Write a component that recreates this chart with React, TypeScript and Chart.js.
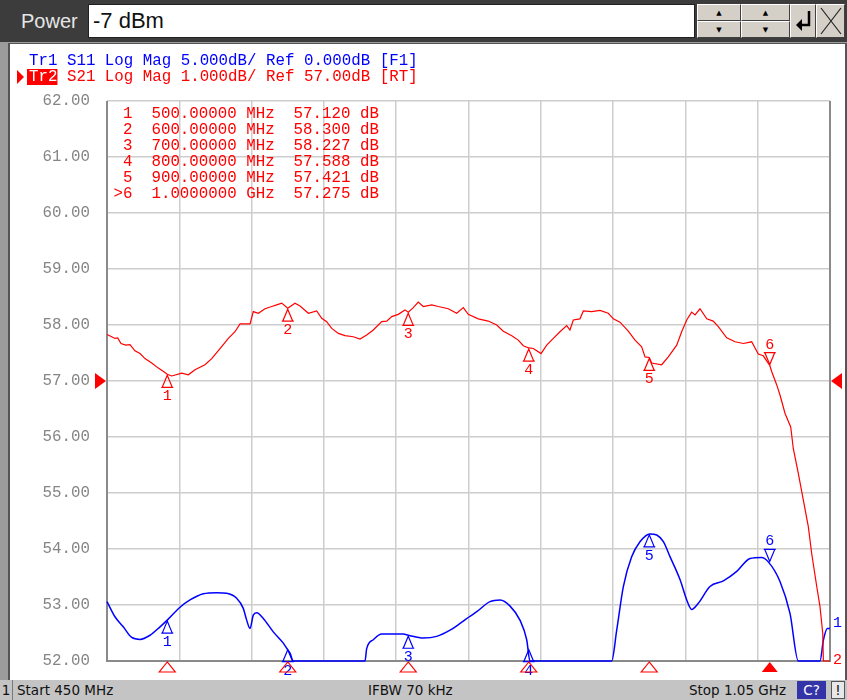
import React, { useEffect, useRef } from "react";
import { Chart, registerables } from "chart.js";
Chart.register(...registerables);

const MONO = '"Liberation Mono", "DejaVu Sans Mono", monospace';

// ---- data ----
const xTickValues = [450, 510, 570, 630, 690, 750, 810, 870, 930, 990, 1050];
const yTickValues = [52, 53, 54, 55, 56, 57, 58, 59, 60, 61, 62];

// Tr2 S21 (dB), 1 dB/div, ref 57 dB
const s21Freq = [450, 453.9, 456.6, 458.9, 461.6, 465.5, 469.1, 473.2, 477.4, 481.5, 487.1, 492.6, 498.1, 500, 503.7, 512, 517.5, 523, 531.3, 536.9, 543.8, 550.7, 556.2, 560.4, 568.7, 571.4, 575.6, 581.1, 586.7, 590.8, 595, 600, 606, 610.2, 617.1, 624, 628.2, 632.3, 636.5, 642, 647.5, 654.4, 660, 665.5, 671, 678, 682.1, 686.3, 691.7, 697.3, 700, 704.2, 708.3, 712.5, 719.5, 724.9, 733.2, 740.2, 745.7, 749.8, 758.1, 766.4, 773.4, 778.9, 785.9, 791.3, 795.5, 800, 803.8, 810.2, 814.9, 820.4, 825.9, 831.5, 834.2, 837, 842.5, 845.3, 852.2, 859.1, 866, 870.2, 875.7, 882.6, 888.2, 893.7, 896.5, 900, 902, 910.3, 915.8, 922.8, 926.9, 931.1, 935.2, 938, 942.1, 947.7, 953.1, 957.3, 964.3, 971.2, 978.1, 985, 990.5, 994.6, 1000, 1001.6, 1005.8, 1008.5, 1012.7, 1017.4, 1019.5, 1023.7, 1027.8, 1032, 1034.8, 1039, 1041.7, 1044, 1044.5, 1047, 1050];
const s21Values = [57.83, 57.79, 57.76, 57.77, 57.67, 57.64, 57.65, 57.54, 57.49, 57.40, 57.32, 57.23, 57.15, 57.12, 57.09, 57.14, 57.11, 57.20, 57.29, 57.40, 57.58, 57.76, 57.88, 58.02, 58.02, 58.24, 58.21, 58.29, 58.33, 58.36, 58.39, 58.30, 58.39, 58.34, 58.21, 58.25, 58.12, 58.06, 57.94, 57.85, 57.81, 57.79, 57.75, 57.82, 57.91, 58.06, 58.07, 58.15, 58.19, 58.27, 58.23, 58.31, 58.41, 58.33, 58.36, 58.33, 58.29, 58.21, 58.31, 58.19, 58.11, 58.07, 58.00, 57.89, 57.81, 57.73, 57.63, 57.59, 57.58, 57.49, 57.64, 57.76, 57.88, 57.99, 57.91, 58.09, 58.11, 58.25, 58.24, 58.26, 58.21, 58.11, 58.05, 57.89, 57.73, 57.61, 57.43, 57.42, 57.32, 57.29, 57.43, 57.64, 57.88, 58.09, 58.23, 58.18, 58.29, 58.11, 58.07, 57.97, 57.77, 57.70, 57.67, 57.70, 57.48, 57.45, 57.28, 57.17, 56.93, 56.75, 56.42, 56.18, 55.80, 55.35, 54.88, 54.40, 53.92, 53.33, 52.97, 52.49, 52.0, 51.4, 51.0];

// Tr1 S11 (dB), 5 dB/div, ref 0 dB (values at -25 are at/below screen floor)
const s11Freq = [450, 456.6, 463.5, 470.5, 477.4, 485.7, 494, 500, 510.6, 518.9, 529.9, 541, 549.3, 557.6, 563.1, 565.9, 568.7, 571.4, 574.2, 579.7, 588, 596.3, 600, 601.9, 604.6, 664.1, 665.5, 671, 678, 695.9, 700, 712.5, 723.6, 734.7, 743, 750.7, 756.8, 767.8, 776.2, 784.5, 792.7, 798.3, 801, 868.8, 873, 878.5, 885.4, 892.3, 900.6, 906.2, 911.7, 917.3, 925.6, 931.1, 935.2, 940.7, 950.4, 961.5, 972.6, 983.6, 993.3, 998.8, 1008.5, 1016.8, 1023.7, 1041.7, 1044.5, 1047.8, 1050];
const s11Values = [-19.7, -21.05, -21.95, -22.9, -23.07, -22.7, -21.95, -21.35, -20.2, -19.55, -19.0, -18.9, -18.95, -19.4, -20.3, -21.35, -22.1, -20.9, -20.7, -21.2, -22.4, -23.4, -24.0, -24.3, -25, -25, -23.9, -23.1, -22.6, -22.6, -22.7, -22.95, -22.8, -22.25, -21.65, -21.05, -20.6, -19.7, -19.55, -20.1, -21.35, -23.1, -25, -25, -22.25, -18.35, -15.7, -14.35, -13.65, -13.75, -14.35, -15.7, -17.75, -19.55, -20.4, -19.85, -18.35, -17.85, -17.0, -15.85, -15.75, -16.15, -17.9, -20.75, -25, -25, -23.15, -22.1, -22.1];

// markers
const markerIds = ["1", "2", "3", "4", "5", ">6"];
const markerFreqs = [500, 600, 700, 800, 900, 1000];
const markerFreqLabels = ["500.00000", "600.00000", "700.00000", "800.00000", "900.00000", "1.0000000"];
const markerUnits = ["MHz", "MHz", "MHz", "MHz", "MHz", "GHz"];
const s21MarkerValues = [57.12, 58.3, 58.227, 57.588, 57.421, 57.275];
const s11MarkerValues = [-21.35, -23.9, -22.7, -23.9, -13.65, -16.2];

const tr1Header = "Tr1 S11 Log Mag 5.000dB/ Ref 0.000dB [F1]";
const tr2Name = "Tr2";
const tr2Header = " S21 Log Mag 1.000dB/ Ref 57.00dB [RT]";

const RED = "#ff0000";
const BLUE = "#0000ff";

function drawMarker(ctx: CanvasRenderingContext2D, x: number, y: number, active: boolean, color: string, label: string) {
  ctx.strokeStyle = color;
  ctx.fillStyle = color;
  ctx.lineWidth = 1.2;
  ctx.beginPath();
  if (!active) {
    ctx.moveTo(x, y + 1);
    ctx.lineTo(x - 5, y + 13);
    ctx.lineTo(x + 5, y + 13);
    ctx.closePath();
    ctx.moveTo(x - 6, y + 13);
    ctx.lineTo(x + 6, y + 13);
    ctx.stroke();
    ctx.fillText(label, x, y + 22);
  } else {
    ctx.moveTo(x, y - 1);
    ctx.lineTo(x - 5, y - 13);
    ctx.lineTo(x + 5, y - 13);
    ctx.closePath();
    ctx.moveTo(x - 6, y - 13);
    ctx.lineTo(x + 6, y - 13);
    ctx.stroke();
    ctx.fillText(label, x, y - 21);
  }
}

const framePlugin = {
  id: "vnaFrame",
  beforeDatasetsDraw(chart: any) {
    const { ctx, chartArea: a, scales } = chart;
    ctx.save();
    ctx.strokeStyle = "#8a8a8a";
    ctx.lineWidth = 2;
    ctx.beginPath();
    ctx.moveTo(a.left, a.top);
    ctx.lineTo(a.left, a.bottom);
    ctx.lineTo(a.right, a.bottom);
    ctx.lineTo(a.right, a.top);
    ctx.stroke();
    // y tick labels
    ctx.font = `15.8px ${MONO}`;
    ctx.fillStyle = "#858585";
    ctx.textAlign = "right";
    ctx.textBaseline = "middle";
    yTickValues.forEach((v) => {
      ctx.fillText(v.toFixed(2), a.left - 17, scales.y.getPixelForValue(v));
    });
    ctx.restore();
  },
  afterDatasetsDraw(chart: any) {
    const { ctx, chartArea: a, scales } = chart;
    const xs = scales.x, ys = scales.y, y2 = scales.y2;
    ctx.save();
    ctx.font = `15px ${MONO}`;
    ctx.textAlign = "center";
    ctx.textBaseline = "middle";
    markerFreqs.forEach((f, i) => {
      const x = xs.getPixelForValue(f);
      const num = String(i + 1);
      const active = i === markerFreqs.length - 1;
      drawMarker(ctx, x, ys.getPixelForValue(s21MarkerValues[i]), active, RED, num);
      drawMarker(ctx, x, y2.getPixelForValue(s11MarkerValues[i]), active, BLUE, num);
      // stimulus triangle under the axis
      ctx.strokeStyle = RED;
      ctx.fillStyle = RED;
      ctx.lineWidth = 1.2;
      ctx.beginPath();
      ctx.moveTo(x, a.bottom + 1);
      ctx.lineTo(x - 8, a.bottom + 11);
      ctx.lineTo(x + 8, a.bottom + 11);
      ctx.closePath();
      if (active) ctx.fill();
      else ctx.stroke();
    });
    // reference arrows (57 dB)
    const yr = ys.getPixelForValue(57);
    ctx.fillStyle = RED;
    ctx.beginPath();
    ctx.moveTo(a.left - 1, yr);
    ctx.lineTo(a.left - 12, yr - 8);
    ctx.lineTo(a.left - 12, yr + 8);
    ctx.closePath();
    ctx.fill();
    ctx.beginPath();
    ctx.moveTo(a.right + 1, yr);
    ctx.lineTo(a.right + 12, yr - 8);
    ctx.lineTo(a.right + 12, yr + 8);
    ctx.closePath();
    ctx.fill();
    // trace end labels
    ctx.textAlign = "left";
    ctx.fillStyle = BLUE;
    const lastBlue = Math.max(s11Values[s11Values.length - 1], -25);
    ctx.fillText("1", a.right + 3, y2.getPixelForValue(lastBlue) - 5);
    ctx.fillStyle = RED;
    ctx.fillText("2", a.right + 3, a.bottom - 1);

    // headers
    ctx.font = `15.8px ${MONO}`;
    ctx.textBaseline = "middle";
    ctx.textAlign = "left";
    ctx.fillStyle = BLUE;
    ctx.fillText(tr1Header, 19, 17);
    // active trace pointer
    ctx.fillStyle = RED;
    ctx.beginPath();
    ctx.moveTo(7, 26);
    ctx.lineTo(14, 33);
    ctx.lineTo(7, 40);
    ctx.closePath();
    ctx.fill();
    const wName = ctx.measureText(tr2Name).width;
    ctx.fillRect(17, 25, wName + 2, 16);
    ctx.fillStyle = "#ffffff";
    ctx.fillText(tr2Name, 19, 33);
    ctx.fillStyle = RED;
    ctx.fillText(tr2Header, 19 + wName, 33);

    // marker table
    markerIds.forEach((id, i) => {
      const line = id.padStart(2, " ") + "  " + markerFreqLabels[i] + " " + markerUnits[i] + "  " + s21MarkerValues[i].toFixed(3) + " dB";
      ctx.fillText(line, 103.5, 70 + i * 15.9);
    });
    ctx.restore();
  },
};

const btn: React.CSSProperties = {
  position: "absolute",
  background: "#d4d0c8",
  borderStyle: "solid",
  borderWidth: 1,
  borderColor: "#ffffff #404040 #404040 #ffffff",
  boxSizing: "border-box",
  display: "flex",
  alignItems: "center",
  justifyContent: "center",
  fontSize: 7,
  color: "#000",
  fontFamily: "DejaVu Sans, sans-serif",
};

export default function App() {
  const ref = useRef<HTMLCanvasElement>(null);
  useEffect(() => {
    const canvas = ref.current!;
    const chart = new Chart(canvas, {
      type: "line",
      data: {
        datasets: [
          {
            label: "Tr2 S21",
            data: s21Freq.map((f, i) => ({ x: f, y: Math.max(s21Values[i], 52) })),
            borderColor: RED,
            borderWidth: 1.2,
            pointRadius: 0,
            tension: 0,
            yAxisID: "y",
            clip: 3,
          },
          {
            label: "Tr1 S11",
            data: s11Freq.map((f, i) => ({ x: f, y: Math.max(s11Values[i], -25) })),
            borderColor: BLUE,
            borderWidth: 1.5,
            pointRadius: 0,
            cubicInterpolationMode: "monotone",
            yAxisID: "y2",
            clip: 3,
          },
        ] as any,
      },
      options: {
        animation: false,
        responsive: false,
        layout: { padding: { top: 57, right: 15, left: 97, bottom: 19 } },
        plugins: { legend: { display: false }, tooltip: { enabled: false } },
        events: [],
        scales: {
          x: {
            type: "linear",
            min: 450,
            max: 1050,
            afterBuildTicks: (s: any) => {
              s.ticks = xTickValues.map((v) => ({ value: v }));
            },
            ticks: { display: false },
            grid: { color: "#cdcdcd", lineWidth: 1.5, drawTicks: false },
            border: { display: false },
          },
          y: {
            type: "linear",
            min: 52,
            max: 62,
            afterBuildTicks: (s: any) => {
              s.ticks = yTickValues.map((v) => ({ value: v }));
            },
            ticks: { display: false },
            grid: { color: "#cdcdcd", lineWidth: 1.5, drawTicks: false },
            border: { display: false },
          },
          y2: {
            type: "linear",
            min: -25,
            max: 25,
            display: false,
          },
        },
      } as any,
      plugins: [framePlugin],
    });
    return () => chart.destroy();
  }, []);

  return (
    <div style={{ position: "fixed", left: 0, top: 0, width: 847, height: 700, background: "#8e8e8e", overflow: "hidden" }}>
      {/* top toolbar */}
      <div style={{ position: "absolute", left: 0, top: 0, width: 847, height: 42, background: "#3c3c3c" }} />
      <div style={{ position: "absolute", left: 21, top: 8, color: "#e6e6e6", font: "20px 'Liberation Sans', Arial, sans-serif", lineHeight: "26px" }}>Power</div>
      <div style={{ position: "absolute", left: 88, top: 4, width: 607, height: 34, background: "#fff", border: "1px solid #202020", boxSizing: "border-box", font: "22px 'Liberation Sans', Arial, sans-serif", lineHeight: "32px", paddingLeft: 4, color: "#111" }}>-7 dBm</div>
      <div style={{ ...btn, left: 697, top: 4, width: 44, height: 17 }}>▲</div>
      <div style={{ ...btn, left: 697, top: 21, width: 44, height: 17 }}>▼</div>
      <div style={{ ...btn, left: 741, top: 4, width: 49, height: 17 }}>▲</div>
      <div style={{ ...btn, left: 741, top: 21, width: 49, height: 17 }}>▼</div>
      <div style={{ ...btn, left: 790, top: 4, width: 26, height: 34 }}>
        <svg width="20" height="26" viewBox="0 0 20 26">
          <path d="M16 3 V17 H5" stroke="#000" strokeWidth="2.5" fill="none" />
          <path d="M3 17 L9 11 L9 23 Z" fill="#000" />
        </svg>
      </div>
      <div style={{ ...btn, left: 816, top: 4, width: 29, height: 34 }}>
        <svg width="24" height="30" viewBox="0 0 24 30">
          <path d="M2 2 L22 28 M22 2 L2 28" stroke="#222" strokeWidth="1.2" fill="none" />
        </svg>
      </div>
      {/* panel frame */}
      <div style={{ position: "absolute", left: 0, top: 42, width: 847, height: 638, background: "#9c9c9c" }} />
      <div style={{ position: "absolute", left: 8, top: 43, width: 839, height: 637, background: "#555" }} />
      <div style={{ position: "absolute", left: 10, top: 44, width: 835, height: 636, background: "#fff" }}>
        <canvas ref={ref} width={835} height={636} style={{ width: 835, height: 636, display: "block" }} />
      </div>
      {/* status bar */}
      <div style={{ position: "absolute", left: 0, top: 680, width: 847, height: 20, background: "#c4c4c4", font: "13.5px 'DejaVu Sans', sans-serif", lineHeight: "20px", color: "#111" }}>
        <div style={{ position: "absolute", left: 0, top: 0, width: 12, height: 20, borderRight: "1px solid #7a7a7a", textAlign: "center" }}>1</div>
        <div style={{ position: "absolute", left: 17, top: 0 }}>Start 450 MHz</div>
        <div style={{ position: "absolute", left: 368, top: 0 }}>IFBW 70 kHz</div>
        <div style={{ position: "absolute", left: 689, top: 0 }}>Stop 1.05 GHz</div>
        <div style={{ position: "absolute", left: 797, top: 1, width: 29, height: 18, background: "#3434a8", color: "#fff", textAlign: "center", lineHeight: "18px" }}>C?</div>
        <div style={{ position: "absolute", left: 831, top: 1, width: 14, height: 18, background: "#e8e8e8", border: "1px solid #555", boxSizing: "border-box", textAlign: "center", lineHeight: "16px" }}>!</div>
      </div>
    </div>
  );
}
